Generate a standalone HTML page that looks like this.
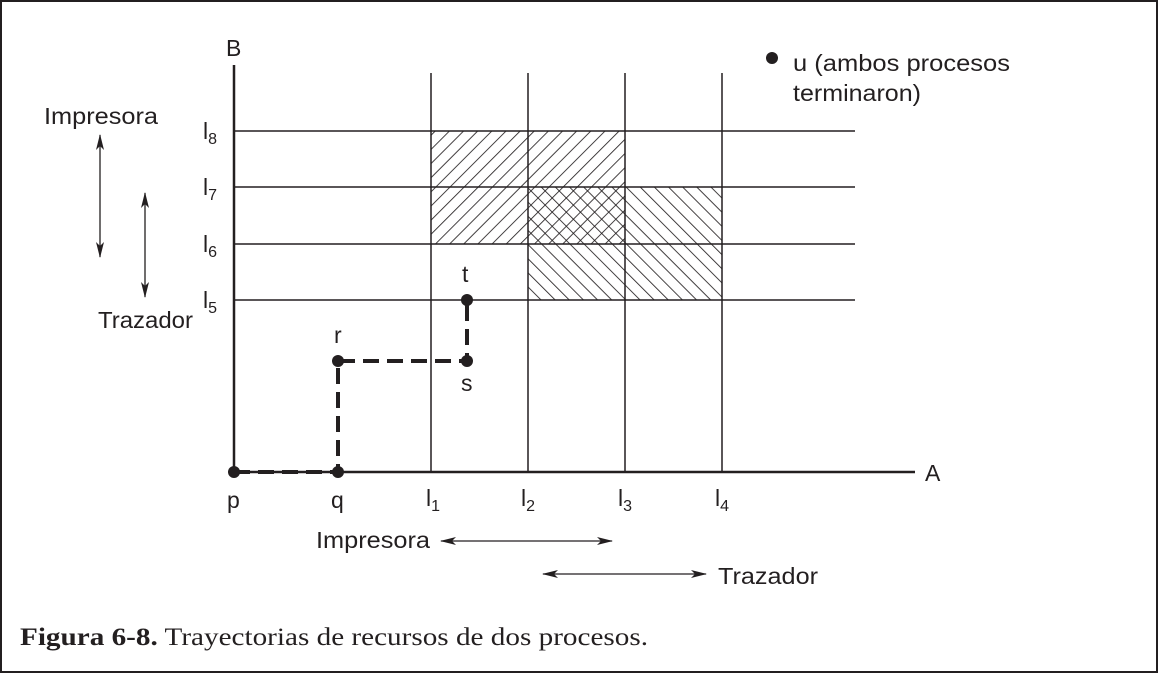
<!DOCTYPE html>
<html><head><meta charset="utf-8"><style>
body{margin:0;background:#fff}
svg{display:block}
text{font-family:"Liberation Sans",sans-serif;font-size:23px;fill:#231f20}
</style></head><body>
<svg width="1159" height="674" viewBox="0 0 1159 674">
<defs>
<pattern id="f" width="10" height="10" patternUnits="userSpaceOnUse" patternTransform="rotate(45)"><line x1="0" y1="0" x2="0" y2="10" stroke="#231f20" stroke-width="1.7"/></pattern>
<pattern id="b" width="10" height="10" patternUnits="userSpaceOnUse" patternTransform="rotate(-45)"><line x1="0" y1="0" x2="0" y2="10" stroke="#231f20" stroke-width="1.7"/></pattern>
<marker id="a" markerWidth="16" markerHeight="8" refX="15" refY="4" orient="auto-start-reverse" markerUnits="userSpaceOnUse"><path d="M0,0 L16,4 L0,8 L4,4 Z" fill="#231f20"/></marker>
</defs>
<rect x="1" y="1" width="1156" height="671" fill="none" stroke="#231f20" stroke-width="2"/>
<rect x="431" y="131" width="194" height="113" fill="url(#f)"/>
<rect x="528" y="187" width="194" height="113" fill="url(#b)"/>
<g stroke="#231f20" stroke-width="1.5">
<line x1="234" y1="131" x2="855" y2="131"/><line x1="234" y1="187" x2="855" y2="187"/>
<line x1="234" y1="244" x2="855" y2="244"/><line x1="234" y1="300" x2="855" y2="300"/>
<line x1="431" y1="73" x2="431" y2="472"/><line x1="528" y1="73" x2="528" y2="472"/>
<line x1="625" y1="73" x2="625" y2="472"/><line x1="722" y1="73" x2="722" y2="472"/>
</g>
<g stroke="#231f20" stroke-width="2.5"><line x1="234" y1="65" x2="234" y2="472"/><line x1="234" y1="472" x2="915" y2="472"/></g>
<path d="M234,472 H338 V361 H467 V300" fill="none" stroke="#231f20" stroke-width="4" stroke-dasharray="16,8"/>
<g fill="#231f20"><circle cx="234" cy="472" r="6"/><circle cx="338" cy="472" r="6"/><circle cx="338" cy="361" r="6"/><circle cx="467" cy="361" r="6"/><circle cx="467" cy="300" r="6"/><circle cx="772" cy="58" r="6"/></g>
<g stroke="#231f20" stroke-width="1.3" marker-start="url(#a)" marker-end="url(#a)">
<line x1="100" y1="135" x2="100" y2="257"/><line x1="145" y1="193" x2="145" y2="297"/>
<line x1="441" y1="541" x2="612" y2="541"/><line x1="543" y1="574" x2="706" y2="574"/>
</g>
<text x="226" y="56">B</text><text x="925" y="481">A</text>
<text x="203" y="139">l<tspan font-size="16" dy="5">8</tspan></text>
<text x="203" y="195">l<tspan font-size="16" dy="5">7</tspan></text>
<text x="203" y="252">l<tspan font-size="16" dy="5">6</tspan></text>
<text x="203" y="308">l<tspan font-size="16" dy="5">5</tspan></text>
<text x="426" y="506">l<tspan font-size="16" dy="5">1</tspan></text>
<text x="521" y="506">l<tspan font-size="16" dy="5">2</tspan></text>
<text x="618" y="506">l<tspan font-size="16" dy="5">3</tspan></text>
<text x="715" y="506">l<tspan font-size="16" dy="5">4</tspan></text>
<text x="227" y="508">p</text><text x="331" y="508">q</text>
<text x="334" y="343">r</text><text x="461" y="391">s</text><text x="462" y="282">t</text>
<text x="793" y="71" textLength="217" lengthAdjust="spacingAndGlyphs">u (ambos procesos</text>
<text x="793" y="101" textLength="128" lengthAdjust="spacingAndGlyphs">terminaron)</text>
<text x="44" y="124" textLength="114" lengthAdjust="spacingAndGlyphs">Impresora</text>
<text x="98" y="328" textLength="95" lengthAdjust="spacingAndGlyphs">Trazador</text>
<text x="316" y="548" textLength="114" lengthAdjust="spacingAndGlyphs">Impresora</text>
<text x="718" y="584" textLength="100" lengthAdjust="spacingAndGlyphs">Trazador</text>
<text x="20" y="645" style="font-family:'Liberation Serif',serif;font-size:25px" textLength="628" lengthAdjust="spacingAndGlyphs"><tspan font-weight="bold">Figura 6-8.</tspan>  Trayectorias de recursos de dos procesos.</text>
</svg>
</body></html>
